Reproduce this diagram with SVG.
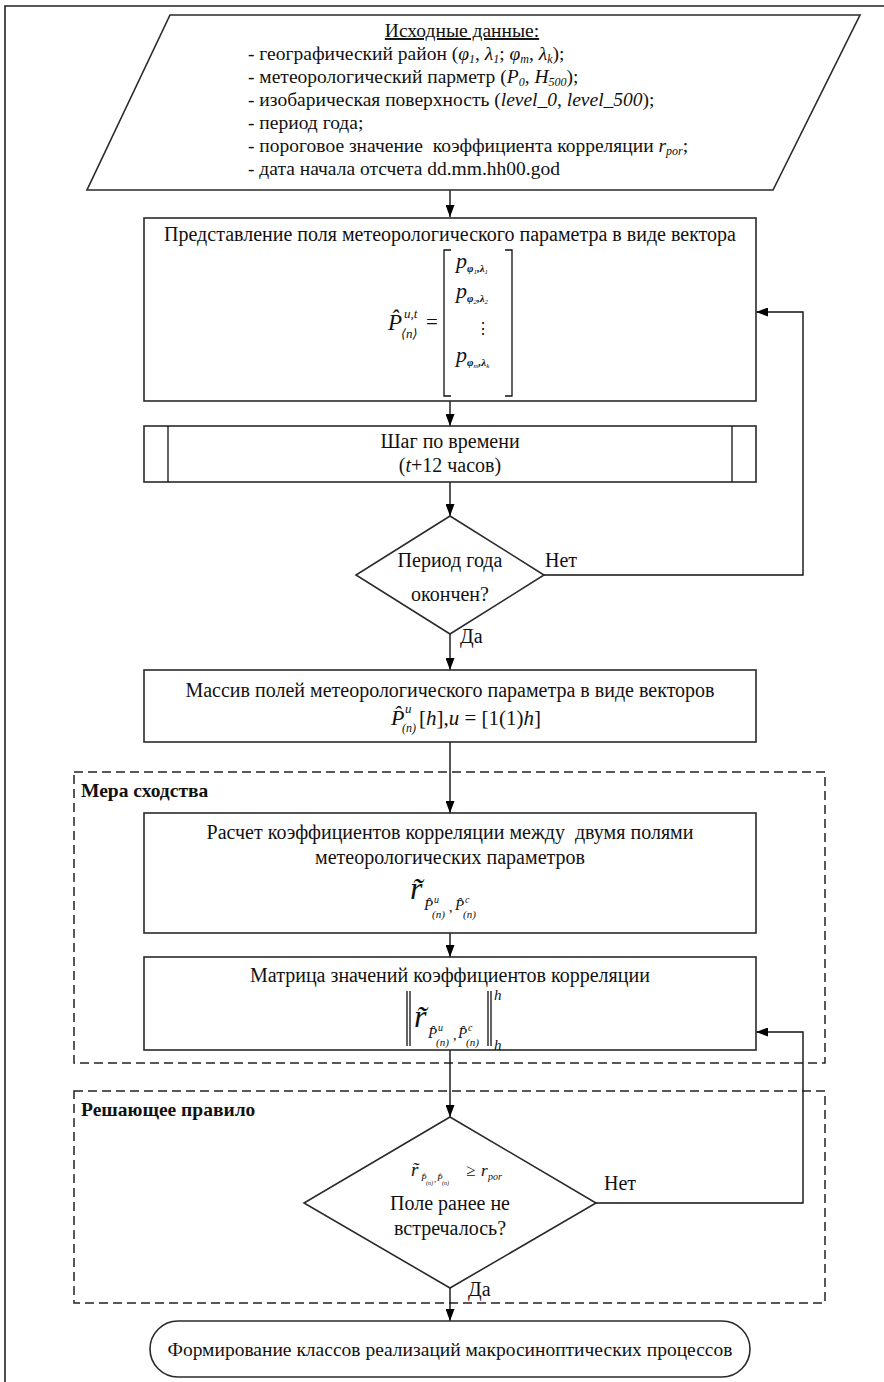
<svg xmlns="http://www.w3.org/2000/svg" width="884" height="1382" viewBox="0 0 884 1382" font-family="'Liberation Serif', 'DejaVu Serif', serif">
<defs>
<marker id="arr" viewBox="0 0 12 9" markerWidth="12" markerHeight="9" refX="12" refY="4.5" orient="auto" markerUnits="userSpaceOnUse">
<path d="M0,0 L12,4.5 L0,9 z" fill="#000"/>
</marker>
<style>
text{font-family:'Liberation Serif','DejaVu Serif',serif;fill:#111;}
.t19{font-size:19.5px;}
.t20{font-size:20px;}
.c{text-anchor:middle;}
.i{font-style:italic;}
.n{font-style:normal;}
.b{font-weight:bold;}
.shape{fill:#fff;stroke:#2a2a2a;stroke-width:1.6;}
.dash{fill:none;stroke:#222;stroke-width:1.5;stroke-dasharray:9,5;}
.conn path{fill:none;stroke:#111;stroke-width:1.4;marker-end:url(#arr);}
.ln{fill:none;stroke:#111;stroke-width:1.3;}
</style>
</defs>
<rect x="0" y="0" width="884" height="1382" fill="#fff"/>
<path d="M5,1382 V6 H884" fill="none" stroke="#222" stroke-width="1.6"/>

<g id="group-mera">
<rect class="dash" x="74" y="772" width="751" height="291"/>
<text class="t19 b" x="81" y="797">Мера сходства</text>
</g>
<g id="group-rule">
<rect class="dash" x="74" y="1091" width="751" height="212"/>
<text class="t19 b" x="81" y="1116">Решающее правило</text>
</g>

<g class="conn" id="connectors">
<path d="M450,190 V217"/>
<path d="M450,401 V426"/>
<path d="M450,482 V516"/>
<path d="M544,575 H803 V312 H756"/>
<path d="M450,634 V670"/>
<path d="M450,742 V813"/>
<path d="M450,933 V957"/>
<path d="M450,1050 V1117"/>
<path d="M596,1203 H803 V1032 H756"/>
<path d="M450,1288 V1321"/>
</g>
<g id="edge-labels">
<text class="t20" x="545" y="567">Нет</text>
<text class="t20" x="460" y="643">Да</text>
<text class="t20" x="604" y="1190">Нет</text>
<text class="t20" x="468" y="1296">Да</text>
</g>

<g id="input">
<path class="shape" d="M170,15 H860 L773,190 H87 Z"/>
<text class="t19 c" x="462" y="37" text-decoration="underline">Исходные данные:</text>
<text class="t19" x="248" y="60">- географический район (<tspan class="i">φ</tspan><tspan class="i" font-size="12" dy="3">1</tspan><tspan dy="-3">, </tspan><tspan class="i">λ</tspan><tspan class="i" font-size="12" dy="3">1</tspan><tspan dy="-3">; </tspan><tspan class="i">φ</tspan><tspan class="i" font-size="12" dy="3">m</tspan><tspan dy="-3">, </tspan><tspan class="i">λ</tspan><tspan class="i" font-size="12" dy="3">k</tspan><tspan dy="-3">);</tspan></text>
<text class="t19" x="248" y="83">- метеорологический парметр (<tspan class="i">P</tspan><tspan class="i" font-size="12" dy="3">0</tspan><tspan dy="-3">, </tspan><tspan class="i">H</tspan><tspan class="i" font-size="12" dy="3">500</tspan><tspan dy="-3">);</tspan></text>
<text class="t19" x="248" y="106">- изобарическая поверхность (<tspan class="i">level_0</tspan>, <tspan class="i">level_500</tspan>);</text>
<text class="t19" x="248" y="129">- период года;</text>
<text class="t19" x="248" y="152" xml:space="preserve">- пороговое значение  коэффициента корреляции <tspan class="i">r</tspan><tspan class="i" font-size="12" dy="3">por</tspan><tspan dy="-3">;</tspan></text>
<text class="t19" x="248" y="175">- дата начала отсчета dd.mm.hh00.god</text>
</g>

<g id="vector">
<rect class="shape" x="144" y="218" width="612" height="183"/>
<text class="t20 c" x="450" y="241">Представление поля метеорологического параметра в виде вектора</text>
<text class="i" font-size="23" x="388" y="330">P̂<tspan font-size="13" x="404" y="318">u,t</tspan><tspan font-size="13" x="401" y="338">⟨n⟩</tspan><tspan class="n" font-size="21" x="426" y="329">=</tspan></text>
<path class="ln" d="M451,250 H444 V396 H451"/>
<path class="ln" d="M505,250 H512 V396 H505"/>
<text class="i" font-size="22" x="456" y="268">p<tspan font-size="11" font-weight="bold" dy="4">φ</tspan><tspan font-size="7" dy="2">1</tspan><tspan font-size="11" font-weight="bold" dy="-2">,λ</tspan><tspan font-size="7" dy="2">1</tspan></text>
<text class="i" font-size="22" x="456" y="298">p<tspan font-size="11" font-weight="bold" dy="4">φ</tspan><tspan font-size="7" dy="2">2</tspan><tspan font-size="11" font-weight="bold" dy="-2">,λ</tspan><tspan font-size="7" dy="2">2</tspan></text>
<text font-size="16" x="475" y="334">⋮</text>
<text class="i" font-size="22" x="456" y="362">p<tspan font-size="11" font-weight="bold" dy="4">φ</tspan><tspan font-size="7" dy="2">m</tspan><tspan font-size="11" font-weight="bold" dy="-2">,λ</tspan><tspan font-size="7" dy="2">k</tspan></text>
</g>

<g id="timestep">
<rect class="shape" x="144" y="426" width="612" height="56"/>
<path class="ln" d="M168,426 V482 M732,426 V482" stroke-width="1.4"/>
<text class="t20 c" x="450" y="448">Шаг по времени</text>
<text class="t20 c" x="450" y="472">(<tspan class="i">t</tspan>+12 часов)</text>
</g>

<g id="decision-period">
<path class="shape" d="M450,516 L544,575 L450,634 L356,575 Z"/>
<text class="t20 c" x="450" y="567">Период года</text>
<text class="t20 c" x="450" y="601">окончен?</text>
</g>

<g id="array">
<rect class="shape" x="144" y="670" width="612" height="72"/>
<text class="t20 c" x="450" y="697">Массив полей метеорологического параметра в виде векторов</text>
<text class="i" font-size="22" x="391" y="725">P̂<tspan font-size="13" x="405" y="713">u</tspan><tspan font-size="12" x="402" y="732">(n)</tspan><tspan class="n" font-size="21" x="419" y="725">[</tspan><tspan font-size="21">h</tspan><tspan class="n" font-size="21">],</tspan><tspan font-size="21">u</tspan><tspan class="n" font-size="21"> = [1(1)</tspan><tspan font-size="21">h</tspan><tspan class="n" font-size="21">]</tspan></text>
</g>

<g id="correlation">
<rect class="shape" x="144" y="813" width="612" height="120"/>
<text class="t20 c" x="450" y="839" xml:space="preserve">Расчет коэффициентов корреляции между  двумя полями</text>
<text class="t20 c" x="450" y="864">метеорологических параметров</text>
<text class="i" font-size="32" x="410" y="899">r̃<tspan font-size="15" x="424" y="910">P̂</tspan><tspan font-size="10" x="434" y="903">u</tspan><tspan font-size="11" x="432" y="918">(n)</tspan><tspan class="n" font-size="14" x="449" y="912">,</tspan><tspan font-size="15" x="455" y="910">P̂</tspan><tspan font-size="10" x="465" y="903">c</tspan><tspan font-size="11" x="463" y="918">(n)</tspan></text>
</g>

<g id="matrix">
<rect class="shape" x="144" y="957" width="612" height="93"/>
<text class="t20 c" x="450" y="982">Матрица значений коэффициентов корреляции</text>
<path class="ln" d="M407,991 V1046 M410,991 V1046 M488,991 V1046 M491,991 V1046"/>
<text class="i" font-size="32" x="414" y="1027">r̃<tspan font-size="15" x="428" y="1038">P̂</tspan><tspan font-size="10" x="438" y="1031">u</tspan><tspan font-size="11" x="436" y="1046">(n)</tspan><tspan class="n" font-size="14" x="453" y="1040">,</tspan><tspan font-size="15" x="458" y="1038">P̂</tspan><tspan font-size="10" x="468" y="1031">c</tspan><tspan font-size="11" x="466" y="1046">(n)</tspan><tspan font-size="15" x="494" y="1000">h</tspan><tspan font-size="15" x="494" y="1050">h</tspan></text>
</g>

<g id="decision-rule">
<path class="shape" d="M450,1117 L596,1203 L450,1288 L304,1203 Z"/>
<text class="i" font-size="19" x="411" y="1176">r̃<tspan font-size="9" x="421" y="1181">P̂</tspan><tspan font-size="6" x="426" y="1185">(n)</tspan><tspan class="n" font-size="9" x="434" y="1182">,</tspan><tspan font-size="9" x="437" y="1181">P̂</tspan><tspan font-size="6" x="442" y="1185">(n)</tspan><tspan class="n" font-size="17" x="466" y="1176">≥</tspan><tspan font-size="17" x="481" y="1176">r</tspan><tspan font-size="10" x="488" y="1180">por</tspan></text>
<text class="t20 c" x="450" y="1210">Поле ранее не</text>
<text class="t20 c" x="450" y="1235">встречалось?</text>
</g>

<g id="terminal">
<rect class="shape" x="150" y="1321" width="600" height="56" rx="28" ry="28"/>
<text class="t19 c" x="450" y="1356">Формирование классов реализаций макросиноптических процессов</text>
</g>
</svg>
